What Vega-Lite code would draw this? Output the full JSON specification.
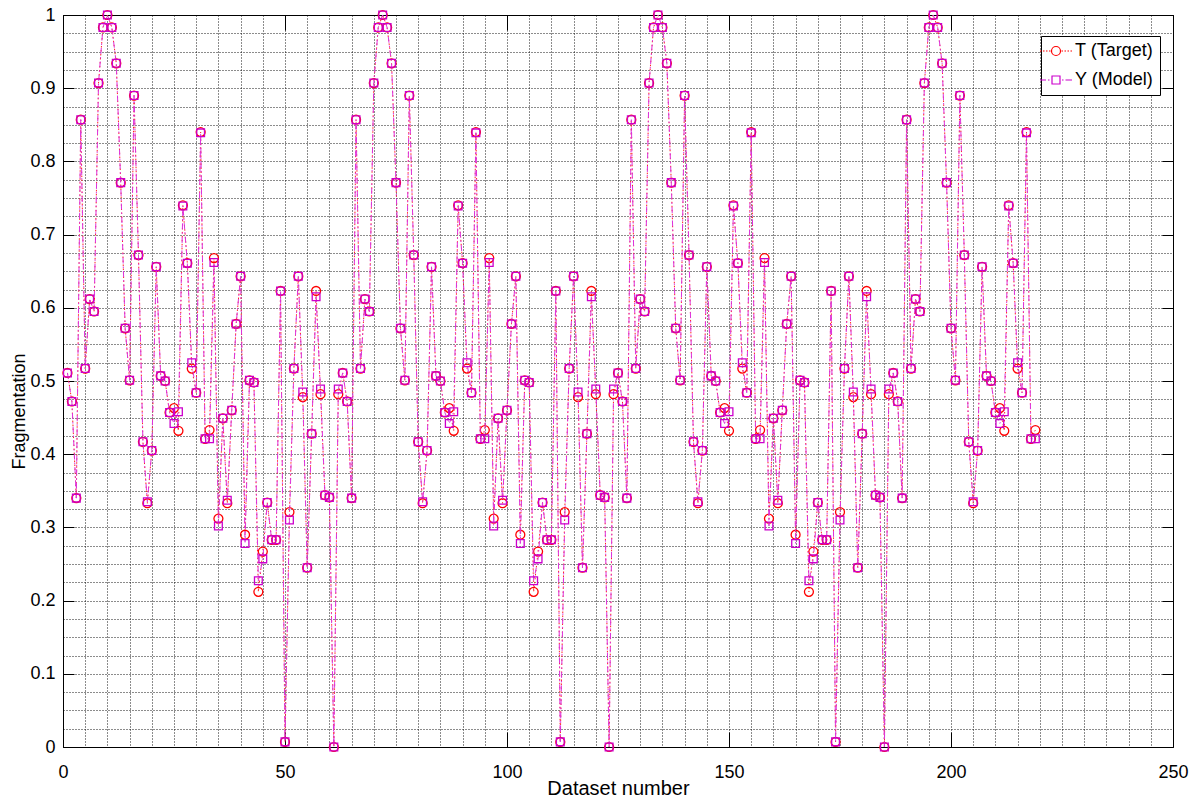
{
"$schema": "https://vega.github.io/schema/vega-lite/v6.json",
"width": 1110, "height": 732,
"autosize": {"type": "none"},
"padding": {"left": 63, "top": 15, "right": 18, "bottom": 52},
"background": "white",
"config": {"view": {"stroke": "#000", "strokeWidth": 1}, "font": "Liberation Sans"},
"data": {"values": [
{"n":1,"T":0.511,"Y":0.511},{"n":2,"T":0.472,"Y":0.472},{"n":3,"T":0.340,"Y":0.340},{"n":4,"T":0.857,"Y":0.857},{"n":5,"T":0.517,"Y":0.517},{"n":6,"T":0.612,"Y":0.612},{"n":7,"T":0.595,"Y":0.595},{"n":8,"T":0.907,"Y":0.907},{"n":9,"T":0.983,"Y":0.983},{"n":10,"T":1.0,"Y":1.0},
{"n":11,"T":0.983,"Y":0.983},{"n":12,"T":0.934,"Y":0.934},{"n":13,"T":0.771,"Y":0.771},{"n":14,"T":0.572,"Y":0.572},{"n":15,"T":0.501,"Y":0.501},{"n":16,"T":0.890,"Y":0.890},{"n":17,"T":0.672,"Y":0.672},{"n":18,"T":0.417,"Y":0.417},{"n":19,"T":0.333,"Y":0.335},{"n":20,"T":0.405,"Y":0.405},
{"n":21,"T":0.656,"Y":0.656},{"n":22,"T":0.507,"Y":0.507},{"n":23,"T":0.500,"Y":0.500},{"n":24,"T":0.457,"Y":0.457},{"n":25,"T":0.463,"Y":0.442},{"n":26,"T":0.432,"Y":0.458},{"n":27,"T":0.740,"Y":0.739},{"n":28,"T":0.661,"Y":0.661},{"n":29,"T":0.517,"Y":0.525},{"n":30,"T":0.484,"Y":0.484},
{"n":31,"T":0.840,"Y":0.839},{"n":32,"T":0.421,"Y":0.421},{"n":33,"T":0.433,"Y":0.421},{"n":34,"T":0.668,"Y":0.662},{"n":35,"T":0.312,"Y":0.302},{"n":36,"T":0.449,"Y":0.449},{"n":37,"T":0.333,"Y":0.337},{"n":38,"T":0.460,"Y":0.460},{"n":39,"T":0.578,"Y":0.578},{"n":40,"T":0.643,"Y":0.643},
{"n":41,"T":0.290,"Y":0.278},{"n":42,"T":0.501,"Y":0.501},{"n":43,"T":0.498,"Y":0.498},{"n":44,"T":0.212,"Y":0.227},{"n":45,"T":0.267,"Y":0.257},{"n":46,"T":0.334,"Y":0.334},{"n":47,"T":0.283,"Y":0.283},{"n":48,"T":0.283,"Y":0.283},{"n":49,"T":0.623,"Y":0.623},{"n":50,"T":0.007,"Y":0.007},
{"n":51,"T":0.321,"Y":0.310},{"n":52,"T":0.517,"Y":0.517},{"n":53,"T":0.643,"Y":0.643},{"n":54,"T":0.478,"Y":0.485},{"n":55,"T":0.245,"Y":0.245},{"n":56,"T":0.428,"Y":0.428},{"n":57,"T":0.623,"Y":0.615},{"n":58,"T":0.482,"Y":0.489},{"n":59,"T":0.344,"Y":0.344},{"n":60,"T":0.341,"Y":0.341},
{"n":61,"T":0.0,"Y":0.0},{"n":62,"T":0.482,"Y":0.489},
{"n":63,"T":0.511,"Y":0.511},{"n":64,"T":0.472,"Y":0.472},{"n":65,"T":0.340,"Y":0.340},{"n":66,"T":0.857,"Y":0.857},{"n":67,"T":0.517,"Y":0.517},{"n":68,"T":0.612,"Y":0.612},{"n":69,"T":0.595,"Y":0.595},{"n":70,"T":0.907,"Y":0.907},{"n":71,"T":0.983,"Y":0.983},{"n":72,"T":1.0,"Y":1.0},
{"n":73,"T":0.983,"Y":0.983},{"n":74,"T":0.934,"Y":0.934},{"n":75,"T":0.771,"Y":0.771},{"n":76,"T":0.572,"Y":0.572},{"n":77,"T":0.501,"Y":0.501},{"n":78,"T":0.890,"Y":0.890},{"n":79,"T":0.672,"Y":0.672},{"n":80,"T":0.417,"Y":0.417},{"n":81,"T":0.333,"Y":0.335},{"n":82,"T":0.405,"Y":0.405},
{"n":83,"T":0.656,"Y":0.656},{"n":84,"T":0.507,"Y":0.507},{"n":85,"T":0.500,"Y":0.500},{"n":86,"T":0.457,"Y":0.457},{"n":87,"T":0.463,"Y":0.442},{"n":88,"T":0.432,"Y":0.458},{"n":89,"T":0.740,"Y":0.739},{"n":90,"T":0.661,"Y":0.661},{"n":91,"T":0.517,"Y":0.525},{"n":92,"T":0.484,"Y":0.484},
{"n":93,"T":0.840,"Y":0.839},{"n":94,"T":0.421,"Y":0.421},{"n":95,"T":0.433,"Y":0.421},{"n":96,"T":0.668,"Y":0.662},{"n":97,"T":0.312,"Y":0.302},{"n":98,"T":0.449,"Y":0.449},{"n":99,"T":0.333,"Y":0.337},{"n":100,"T":0.460,"Y":0.460},{"n":101,"T":0.578,"Y":0.578},{"n":102,"T":0.643,"Y":0.643},
{"n":103,"T":0.290,"Y":0.278},{"n":104,"T":0.501,"Y":0.501},{"n":105,"T":0.498,"Y":0.498},{"n":106,"T":0.212,"Y":0.227},{"n":107,"T":0.267,"Y":0.257},{"n":108,"T":0.334,"Y":0.334},{"n":109,"T":0.283,"Y":0.283},{"n":110,"T":0.283,"Y":0.283},{"n":111,"T":0.623,"Y":0.623},{"n":112,"T":0.007,"Y":0.007},
{"n":113,"T":0.321,"Y":0.310},{"n":114,"T":0.517,"Y":0.517},{"n":115,"T":0.643,"Y":0.643},{"n":116,"T":0.478,"Y":0.485},{"n":117,"T":0.245,"Y":0.245},{"n":118,"T":0.428,"Y":0.428},{"n":119,"T":0.623,"Y":0.615},{"n":120,"T":0.482,"Y":0.489},{"n":121,"T":0.344,"Y":0.344},{"n":122,"T":0.341,"Y":0.341},
{"n":123,"T":0.0,"Y":0.0},{"n":124,"T":0.482,"Y":0.489},
{"n":125,"T":0.511,"Y":0.511},{"n":126,"T":0.472,"Y":0.472},{"n":127,"T":0.340,"Y":0.340},{"n":128,"T":0.857,"Y":0.857},{"n":129,"T":0.517,"Y":0.517},{"n":130,"T":0.612,"Y":0.612},{"n":131,"T":0.595,"Y":0.595},{"n":132,"T":0.907,"Y":0.907},{"n":133,"T":0.983,"Y":0.983},{"n":134,"T":1.0,"Y":1.0},
{"n":135,"T":0.983,"Y":0.983},{"n":136,"T":0.934,"Y":0.934},{"n":137,"T":0.771,"Y":0.771},{"n":138,"T":0.572,"Y":0.572},{"n":139,"T":0.501,"Y":0.501},{"n":140,"T":0.890,"Y":0.890},{"n":141,"T":0.672,"Y":0.672},{"n":142,"T":0.417,"Y":0.417},{"n":143,"T":0.333,"Y":0.335},{"n":144,"T":0.405,"Y":0.405},
{"n":145,"T":0.656,"Y":0.656},{"n":146,"T":0.507,"Y":0.507},{"n":147,"T":0.500,"Y":0.500},{"n":148,"T":0.457,"Y":0.457},{"n":149,"T":0.463,"Y":0.442},{"n":150,"T":0.432,"Y":0.458},{"n":151,"T":0.740,"Y":0.739},{"n":152,"T":0.661,"Y":0.661},{"n":153,"T":0.517,"Y":0.525},{"n":154,"T":0.484,"Y":0.484},
{"n":155,"T":0.840,"Y":0.839},{"n":156,"T":0.421,"Y":0.421},{"n":157,"T":0.433,"Y":0.421},{"n":158,"T":0.668,"Y":0.662},{"n":159,"T":0.312,"Y":0.302},{"n":160,"T":0.449,"Y":0.449},{"n":161,"T":0.333,"Y":0.337},{"n":162,"T":0.460,"Y":0.460},{"n":163,"T":0.578,"Y":0.578},{"n":164,"T":0.643,"Y":0.643},
{"n":165,"T":0.290,"Y":0.278},{"n":166,"T":0.501,"Y":0.501},{"n":167,"T":0.498,"Y":0.498},{"n":168,"T":0.212,"Y":0.227},{"n":169,"T":0.267,"Y":0.257},{"n":170,"T":0.334,"Y":0.334},{"n":171,"T":0.283,"Y":0.283},{"n":172,"T":0.283,"Y":0.283},{"n":173,"T":0.623,"Y":0.623},{"n":174,"T":0.007,"Y":0.007},
{"n":175,"T":0.321,"Y":0.310},{"n":176,"T":0.517,"Y":0.517},{"n":177,"T":0.643,"Y":0.643},{"n":178,"T":0.478,"Y":0.485},{"n":179,"T":0.245,"Y":0.245},{"n":180,"T":0.428,"Y":0.428},{"n":181,"T":0.623,"Y":0.615},{"n":182,"T":0.482,"Y":0.489},{"n":183,"T":0.344,"Y":0.344},{"n":184,"T":0.341,"Y":0.341},
{"n":185,"T":0.0,"Y":0.0},{"n":186,"T":0.482,"Y":0.489},
{"n":187,"T":0.511,"Y":0.511},{"n":188,"T":0.472,"Y":0.472},{"n":189,"T":0.340,"Y":0.340},{"n":190,"T":0.857,"Y":0.857},{"n":191,"T":0.517,"Y":0.517},{"n":192,"T":0.612,"Y":0.612},{"n":193,"T":0.595,"Y":0.595},{"n":194,"T":0.907,"Y":0.907},{"n":195,"T":0.983,"Y":0.983},{"n":196,"T":1.0,"Y":1.0},
{"n":197,"T":0.983,"Y":0.983},{"n":198,"T":0.934,"Y":0.934},{"n":199,"T":0.771,"Y":0.771},{"n":200,"T":0.572,"Y":0.572},{"n":201,"T":0.501,"Y":0.501},{"n":202,"T":0.890,"Y":0.890},{"n":203,"T":0.672,"Y":0.672},{"n":204,"T":0.417,"Y":0.417},{"n":205,"T":0.333,"Y":0.335},{"n":206,"T":0.405,"Y":0.405},
{"n":207,"T":0.656,"Y":0.656},{"n":208,"T":0.507,"Y":0.507},{"n":209,"T":0.500,"Y":0.500},{"n":210,"T":0.457,"Y":0.457},{"n":211,"T":0.463,"Y":0.442},{"n":212,"T":0.432,"Y":0.458},{"n":213,"T":0.740,"Y":0.739},{"n":214,"T":0.661,"Y":0.661},{"n":215,"T":0.517,"Y":0.525},{"n":216,"T":0.484,"Y":0.484},
{"n":217,"T":0.840,"Y":0.839},{"n":218,"T":0.421,"Y":0.421},{"n":219,"T":0.433,"Y":0.421}
]},
"transform": [{"fold": ["T", "Y"], "as": ["series", "value"]}],
"resolve": {"axis": {"x": "independent", "y": "independent"}},
"layer": [
{
 "transform": [{"filter": "datum.series === 'T'"}],
 "mark": {"type": "line", "color": "#FF2020", "strokeWidth": 1, "strokeDash": [1.5, 2.5]},
 "encoding": {
  "x": {"field": "n", "type": "quantitative", "scale": {"domain": [0, 250], "nice": false, "zero": false},
   "axis": {"orient": "bottom", "values": [0,5,10,15,20,25,30,35,40,45,50,55,60,65,70,75,80,85,90,95,100,105,110,115,120,125,130,135,140,145,150,155,160,165,170,175,180,185,190,195,200,205,210,215,220,225,230,235,240,245,250],
    "grid": true, "gridColor": "#000", "gridDash": [1, 2], "gridOpacity": 0.9, "gridWidth": 1,
    "ticks": false, "domain": false,
    "labelExpr": "datum.value % 50 === 0 ? datum.label : ''",
    "labelFont": "Liberation Sans", "labelFontSize": 18, "labelColor": "#000", "labelPadding": 16, "labelBaseline": "top", "labelOverlap": false, "labelFlush": false,
    "title": "Dataset number", "titleFont": "Liberation Sans", "titleFontSize": 20, "titleFontWeight": "normal", "titleColor": "#000", "titleY": 41, "titleBaseline": "middle"}},
  "y": {"field": "value", "type": "quantitative", "scale": {"domain": [0, 1], "nice": false},
   "axis": {"orient": "left", "values": [0,0.025,0.05,0.075,0.1,0.125,0.15,0.175,0.2,0.225,0.25,0.275,0.3,0.325,0.35,0.375,0.4,0.425,0.45,0.475,0.5,0.525,0.55,0.575,0.6,0.625,0.65,0.675,0.7,0.725,0.75,0.775,0.8,0.825,0.85,0.875,0.9,0.925,0.95,0.975,1],
    "grid": true, "gridColor": "#000", "gridDash": [1, 2], "gridOpacity": 0.9, "gridWidth": 1,
    "ticks": false, "domain": false,
    "labelExpr": "abs(datum.value*10 - round(datum.value*10)) < 0.001 ? format(datum.value, '.1~f') : ''",
    "labelFont": "Liberation Sans", "labelFontSize": 18, "labelColor": "#000", "labelPadding": 8, "labelBaseline": "middle", "labelOverlap": false, "labelFlush": false,
    "title": "Fragmentation", "titleFont": "Liberation Sans", "titleFontSize": 18, "titleFontWeight": "normal", "titleColor": "#000",
    "titleAngle": 270, "titleX": -44, "titleY": 396, "titleAlign": "center", "titleBaseline": "middle"}}
 }
},
{
 "transform": [{"filter": "datum.series === 'T'"}],
 "mark": {"type": "point", "shape": "circle", "filled": false, "color": "#FF0000", "size": 80, "strokeWidth": 1.3, "opacity": 1},
 "encoding": {
  "x": {"field": "n", "type": "quantitative", "axis": {"orient": "bottom", "offset": -15, "values": [0,50,100,150,200,250], "ticks": true, "tickSize": 15, "tickColor": "#000", "tickWidth": 1, "labels": false, "domain": false, "grid": false, "title": null}},
  "y": {"field": "value", "type": "quantitative", "axis": {"orient": "left", "offset": -11, "values": [0,0.1,0.2,0.3,0.4,0.5,0.6,0.7,0.8,0.9,1], "ticks": true, "tickSize": 11, "tickColor": "#000", "tickWidth": 1, "labels": false, "domain": false, "grid": false, "title": null}}
 }
},
{
 "transform": [{"filter": "datum.series === 'Y'"}],
 "mark": {"type": "line", "color": "#DD33DD", "strokeWidth": 1, "strokeDash": [6, 3, 1.5, 3]},
 "encoding": {
  "x": {"field": "n", "type": "quantitative", "axis": {"orient": "top", "offset": -15, "values": [0,50,100,150,200,250], "ticks": true, "tickSize": 15, "tickColor": "#000", "tickWidth": 1, "labels": false, "domain": false, "grid": false, "title": null}},
  "y": {"field": "value", "type": "quantitative", "axis": {"orient": "right", "offset": -11, "values": [0,0.1,0.2,0.3,0.4,0.5,0.6,0.7,0.8,0.9,1], "ticks": true, "tickSize": 11, "tickColor": "#000", "tickWidth": 1, "labels": false, "domain": false, "grid": false, "title": null}}
 }
},
{
 "transform": [{"filter": "datum.series === 'Y'"}],
 "mark": {"type": "point", "shape": "square", "filled": false, "color": "#CC00CC", "size": 60, "strokeWidth": 1.3, "opacity": 1},
 "encoding": {
  "x": {"field": "n", "type": "quantitative", "axis": null},
  "y": {"field": "value", "type": "quantitative", "axis": null}
 }
},
{
 "mark": {"type": "point", "filled": false, "opacity": 0},
 "encoding": {
  "x": {"field": "n", "type": "quantitative", "axis": null},
  "y": {"field": "value", "type": "quantitative", "axis": null},
  "color": {"field": "series", "type": "nominal", "scale": {"domain": ["T", "Y"], "range": ["#FF0000", "#CC00CC"]},
   "legend": {"title": null, "orient": "none", "legendX": 978, "legendY": 21, "direction": "vertical", "fillColor": "#FFFFFF", "strokeColor": "#000000", "padding": 6, "rowPadding": 11,
    "labelFont": "Liberation Sans", "labelFontSize": 18, "labelColor": "#000", "labelOffset": 10, "symbolSize": 100, "symbolStrokeWidth": 1.2, "symbolOpacity": 1,
    "labelExpr": "datum.value === 'T' ? 'T (Target)' : 'Y (Model)'"}},
  "shape": {"field": "series", "type": "nominal", "scale": {"domain": ["T", "Y"], "range": [
    "M-3.2,0h0.3M-2.6,0h0.3M-2.0,0h0.3M-1.4,0h0.3M1.1,0h0.3M1.7,0h0.3M2.3,0h0.3M2.9,0h0.3M0.9,0A0.9,0.9,0,1,1,-0.9,0A0.9,0.9,0,1,1,0.9,0Z",
    "M-3.2,0h1.2M-1.6,0h0.3M1.2,0h0.3M1.9,0h1.3M-0.8,-0.8h1.6v1.6h-1.6Z"]},
   "legend": {"title": null, "orient": "none", "legendX": 978, "legendY": 21, "direction": "vertical", "fillColor": "#FFFFFF", "strokeColor": "#000000", "padding": 6, "rowPadding": 11,
    "labelFont": "Liberation Sans", "labelFontSize": 18, "labelColor": "#000", "labelOffset": 10, "symbolSize": 100, "symbolStrokeWidth": 1.2, "symbolOpacity": 1,
    "labelExpr": "datum.value === 'T' ? 'T (Target)' : 'Y (Model)'"}}
 }
}
]
}
